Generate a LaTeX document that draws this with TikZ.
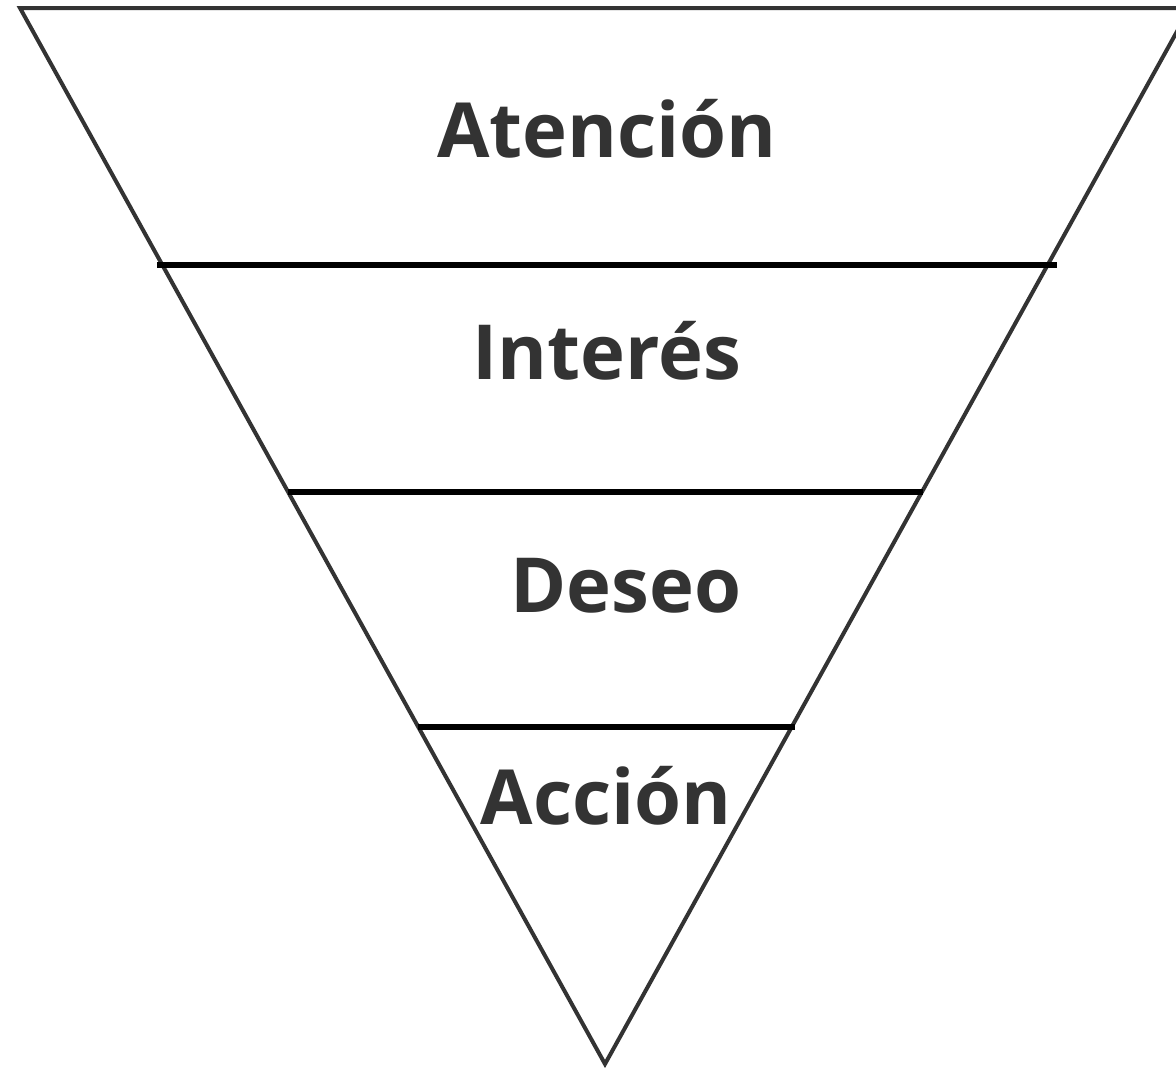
\documentclass[tikz,border=0pt]{standalone}
\usepackage{fontspec}
\setmainfont{Open Sans}
\begin{document}
\begin{tikzpicture}[x=1pt,y=-1pt,
  edge/.style={draw=edgegray,line width=4pt,line join=miter},
  bar/.style={draw=black,line width=6.5pt},
  lbl/.style={text=labelgray,font=\fontsize{76}{86}\selectfont\bfseries,inner sep=0pt,anchor=base}]
\definecolor{edgegray}{HTML}{333333}
\definecolor{labelgray}{HTML}{333333}
\useasboundingbox (0,0) rectangle (1176,1068);
\clip (0,0) rectangle (1176,1068);
\coordinate (tl) at (20,8);
\coordinate (tr) at (1190,8);
\coordinate (apex) at (605,1064);
\draw[edge] (tl) -- (tr) -- (apex) -- cycle;
\coordinate (b1l) at (157,265);
\coordinate (b1r) at (1057,265);
\coordinate (b2l) at (288,492);
\coordinate (b2r) at (923,492);
\coordinate (b3l) at (418,727);
\coordinate (b3r) at (795,727);
\draw[bar] (b1l) -- (b1r);
\draw[bar] (b2l) -- (b2r);
\draw[bar] (b3l) -- (b3r);
\node[lbl] (atencion) at (607,157) {Atención};
\node[lbl] (interes) at (607,379) {Interés};
\node[lbl] (deseo) at (626,612) {Deseo};
\node[lbl] (accion) at (606,824) {Acción};
\end{tikzpicture}
\end{document}
